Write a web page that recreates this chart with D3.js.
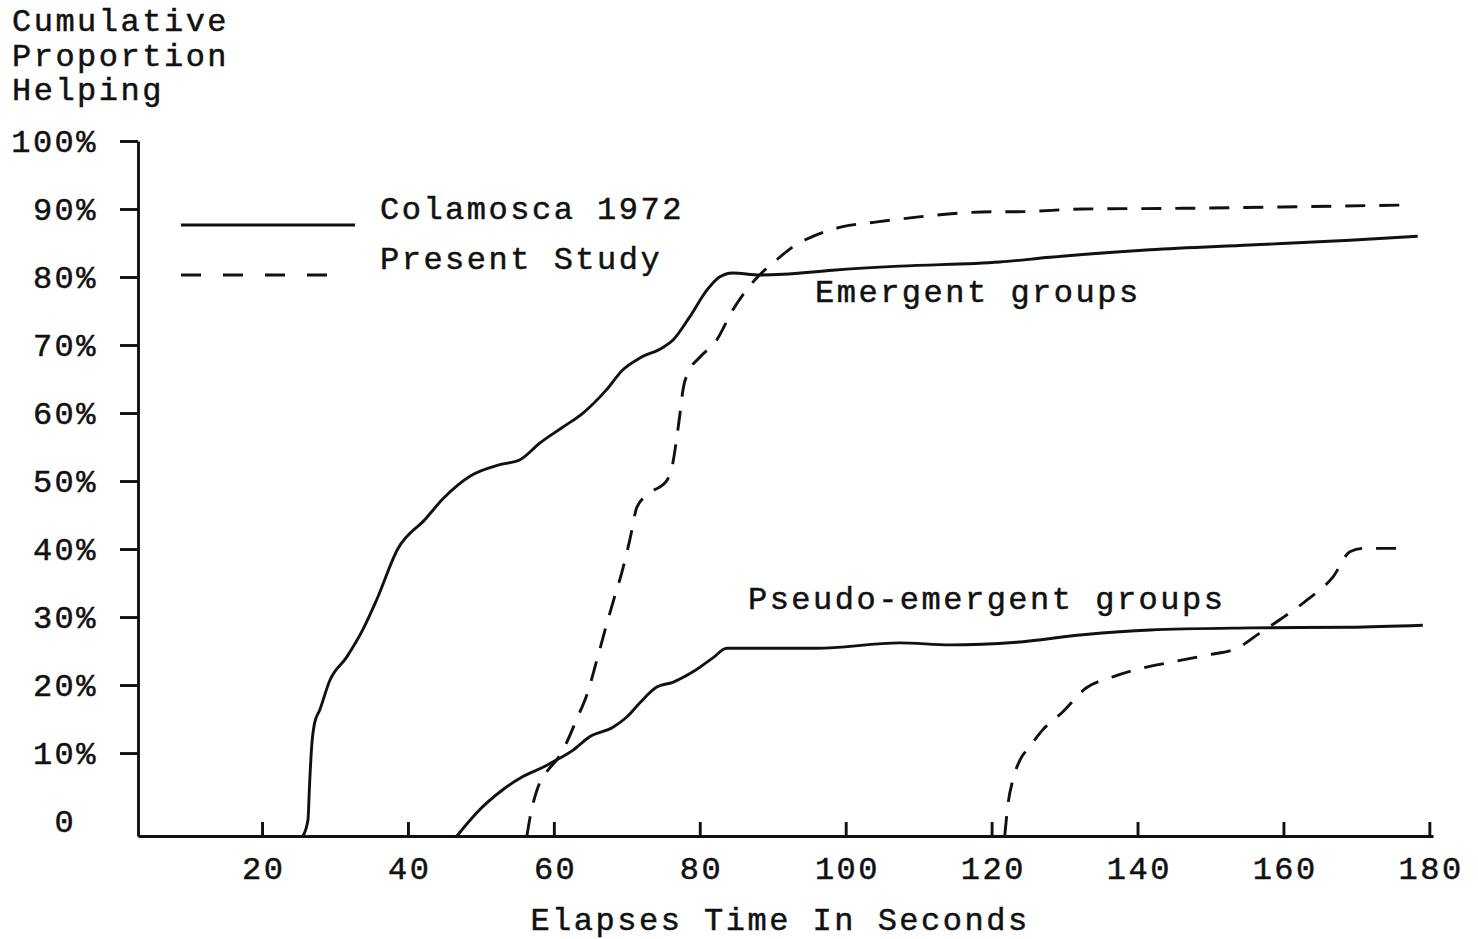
<!DOCTYPE html>
<html>
<head>
<meta charset="utf-8">
<script src="https://cdn.jsdelivr.net/npm/d3@7"></script>
<style>
  html, body { margin: 0; padding: 0; background: #fff; }
  svg { display: block; }
  text { font-family: "Liberation Mono", "DejaVu Sans Mono", monospace; fill: #111; }
</style>
</head>
<body>
<script>
// ---------- data ----------
const xTicks = [20, 40, 60, 80, 100, 120, 140, 160, 180];
const yTicks = [0, 10, 20, 30, 40, 50, 60, 70, 80, 90, 100];

const yTitleLines = ["Cumulative", "Proportion", "Helping"];
const xTitle = "Elapses Time In Seconds";
const legendLabels = ["Colamosca 1972", "Present Study"];
const groupLabels = ["Emergent groups", "Pseudo-emergent groups"];

// [seconds, cumulative % helping]; first point lies on the drawn baseline
const colamoscaEmergent = [
  [25.6, -2.2], [26.3, 0.2], [26.5, 5.0], [26.8, 10.9], [27.2, 14.4], [27.9, 16.3],
  [29.3, 20.7], [31.6, 24.1], [33.8, 28.1], [35.7, 32.5], [38.6, 40.0], [42.3, 44.3],
  [45.0, 47.6], [48.5, 50.7], [52.6, 52.4], [55.3, 53.1], [58.1, 55.6], [61.2, 57.9],
  [64.0, 60.0], [67.2, 63.4], [69.4, 66.3], [71.8, 68.1], [74.9, 69.6], [76.3, 70.7],
  [78.6, 74.1], [81.0, 78.1], [82.7, 80.0], [84.5, 80.6], [88.2, 80.3], [91.4, 80.4],
  [98.2, 81.0], [107.4, 81.6], [121.1, 82.2], [128.0, 82.9], [141.7, 84.0],
  [155.4, 84.7], [169.1, 85.4], [178.4, 86.0]
];

const presentEmergent = [
  [56.3, -2.2], [56.8, 0.9], [57.7, 4.6], [59.2, 7.5], [60.4, 9.0], [61.6, 11.2],
  [63.1, 14.9], [64.6, 18.8], [65.9, 23.7], [67.1, 28.4], [68.3, 32.9], [69.3, 36.5],
  [70.4, 41.3], [71.4, 46.2], [73.1, 48.2], [75.5, 50.1], [76.3, 52.6], [76.8, 56.0],
  [77.3, 60.0], [77.7, 63.4], [78.6, 66.3], [80.0, 68.2], [82.3, 70.7], [84.5, 75.1],
  [86.4, 78.1], [88.2, 80.3], [90.5, 82.5], [92.7, 84.4], [96.0, 86.2], [99.6, 87.4],
  [104.3, 88.1], [109.7, 88.8], [115.6, 89.4], [120.2, 89.6], [123.4, 89.6],
  [132.5, 90.0], [146.2, 90.1], [159.9, 90.3], [177.3, 90.6]
];

const colamoscaPseudo = [
  [46.7, -2.2], [49.4, 1.2], [53.0, 4.6], [55.7, 6.5], [58.5, 7.9], [60.4, 9.0],
  [62.6, 10.4], [64.9, 12.4], [68.1, 13.8], [70.0, 15.3], [71.8, 17.4], [74.1, 19.7],
  [76.3, 20.4], [79.0, 21.9], [81.8, 24.0], [83.7, 25.4], [86.8, 25.4], [96.0, 25.4],
  [107.4, 26.2], [114.3, 25.9], [123.4, 26.3], [132.5, 27.4], [141.7, 28.1],
  [155.4, 28.4], [169.1, 28.5], [179.1, 28.8]
];

const presentPseudo = [
  [121.8, -2.2], [122.2, 2.1], [122.9, 6.0], [123.9, 9.0], [125.2, 10.9], [127.0, 13.4],
  [129.7, 16.0], [133.0, 19.6], [136.6, 21.2], [140.3, 22.4], [144.8, 23.4],
  [149.5, 24.4], [153.6, 25.4], [156.7, 27.6], [159.5, 29.6], [163.6, 32.8],
  [166.8, 35.9], [169.1, 39.6], [170.9, 40.1], [176.9, 40.1]
];

const series = [
  { data: colamoscaEmergent, dashed: false },
  { data: presentEmergent, dashed: true },
  { data: colamoscaPseudo, dashed: false },
  { data: presentPseudo, dashed: true }
];

// ---------- layout ----------
const W = 1478, H = 939;
const FONT = 32, LS = 2.5;
const INK = "#111";
const SW = 2.9;

const svg = d3.select("body").append("svg").attr("width", W).attr("height", H);
svg.append("rect").attr("width", W).attr("height", H).attr("fill", "#fff");

const x = d3.scaleLinear().domain([3, 180.5]).range([138, 1433]);
const y = d3.scaleLinear().domain([-2.2, 100]).range([836, 141]);

function styleText(sel) {
  sel.attr("font-family", "'Liberation Mono', 'DejaVu Sans Mono', monospace")
     .attr("font-size", FONT)
     .attr("letter-spacing", LS)
     .attr("stroke", INK)
     .attr("stroke-width", 0.5)
     .attr("fill", INK);
}

// x axis
const gx = svg.append("g").attr("transform", `translate(0,${y(-2.2)})`)
  .call(d3.axisBottom(x).tickValues(xTicks).tickSizeInner(-14).tickSizeOuter(0)
        .tickPadding(20).tickFormat(d3.format("d")));
gx.attr("font-family", null).attr("font-size", null);
gx.select(".domain").attr("stroke", INK).attr("stroke-width", SW);
gx.selectAll(".tick line").attr("stroke", INK).attr("stroke-width", SW);
gx.selectAll(".tick text").call(styleText).attr("dx", LS / 2);

// y axis
const gy = svg.append("g").attr("transform", `translate(${x(3)},0)`)
  .call(d3.axisLeft(y).tickValues(yTicks).tickSizeInner(18).tickSizeOuter(0)
        .tickPadding(22).tickFormat(d => d === 0 ? "0" : d + "%"));
gy.attr("font-family", null).attr("font-size", null);
gy.select(".domain").attr("stroke", INK).attr("stroke-width", SW);
gy.selectAll(".tick line").attr("stroke", INK).attr("stroke-width", SW);
gy.selectAll(".tick text").call(styleText);
gy.selectAll(".tick").filter(d => d === 0).select("line").remove();
gy.selectAll(".tick").filter(d => d === 0).select("text").attr("dx", -(FONT * 0.6 + LS));

// y title (three lines)
svg.append("g").selectAll("text").data(yTitleLines).join("text")
  .attr("x", 12).attr("y", (d, i) => 31 + i * 34.5)
  .text(d => d).call(styleText);

// x title
svg.append("text").attr("x", 780).attr("y", 930).attr("text-anchor", "middle")
  .text(xTitle).call(styleText);

// curves
const line = d3.line().x(d => x(d[0])).y(d => y(d[1])).curve(d3.curveMonotoneX);
svg.append("g").selectAll("path").data(series).join("path")
  .attr("d", d => line(d.data))
  .attr("fill", "none")
  .attr("stroke", INK)
  .attr("stroke-width", SW)
  .attr("stroke-linejoin", "round")
  .attr("stroke-dasharray", d => d.dashed ? "20,14" : null);

// legend
const legend = svg.append("g");
legend.append("line").attr("x1", 181).attr("x2", 355).attr("y1", 225).attr("y2", 225)
  .attr("stroke", INK).attr("stroke-width", SW);
legend.append("line").attr("x1", 181).attr("x2", 328).attr("y1", 275).attr("y2", 275)
  .attr("stroke", INK).attr("stroke-width", SW).attr("stroke-dasharray", "20,22");
legend.selectAll("text").data(legendLabels).join("text")
  .attr("x", 380).attr("y", (d, i) => 219 + i * 50)
  .text(d => d).call(styleText);

// group annotations
const annot = [
  { label: groupLabels[0], t: 95.8, p: 76.3 },
  { label: groupLabels[1], t: 86.6, p: 31.2 }
];
svg.append("g").selectAll("text").data(annot).join("text")
  .attr("x", d => x(d.t)).attr("y", d => y(d.p))
  .text(d => d.label).call(styleText);
</script>
</body>
</html>
